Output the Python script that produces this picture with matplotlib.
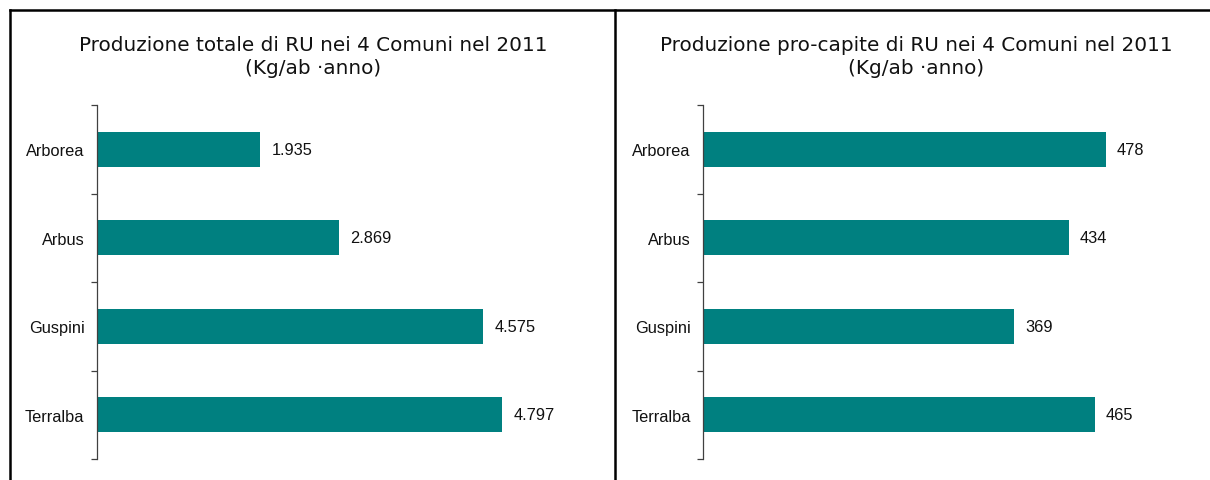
import matplotlib
matplotlib.use("Agg")
import matplotlib.pyplot as plt
from matplotlib.lines import Line2D

categories = ["Arborea", "Arbus", "Guspini", "Terralba"]
totale = [1935, 2869, 4575, 4797]
procapite = [478, 434, 369, 465]
title_left = "Produzione totale di RU nei 4 Comuni nel 2011\n(Kg/ab ·anno)"
title_right = "Produzione pro-capite di RU nei 4 Comuni nel 2011\n(Kg/ab ·anno)"

W, H = 1210, 481
fig = plt.figure(figsize=(W / 100, H / 100), dpi=100)
fig.patch.set_facecolor("white")

bar_color = "#008080"
label_font = "Liberation Sans"


def fmt_it(v):
    return f"{v:,}".replace(",", ".")


def make_panel(left_px, width_px, values, xmax):
    bottom = (H - 460) / H
    top = (H - 106) / H
    ax = fig.add_axes([left_px / W, bottom, width_px / W, top - bottom])
    ypos = list(range(len(categories)))
    ax.barh(ypos, values, height=0.4, color=bar_color)
    ax.set_ylim(len(categories) - 0.5, -0.5)
    ax.set_xlim(0, xmax)
    for s in ["top", "right", "bottom"]:
        ax.spines[s].set_visible(False)
    ax.spines["left"].set_color("#404040")
    ax.spines["left"].set_linewidth(0.9)
    ax.set_xticks([])
    ax.set_yticks([i - 0.5 for i in range(len(categories) + 1)])
    ax.set_yticklabels([])
    ax.tick_params(axis="y", which="major", direction="out", length=4.5,
                   width=0.9, color="#404040")
    ax.set_yticks(ypos, minor=True)
    ax.set_yticklabels(categories, minor=True, fontsize=11.8,
                       family=label_font, color="#111111")
    ax.tick_params(axis="y", which="minor", length=0, pad=9.0)
    for y, v in zip(ypos, values):
        ax.annotate(fmt_it(v), xy=(v, y), xytext=(8, 0),
                    textcoords="offset points", va="center", ha="left",
                    fontsize=11.8, family=label_font, color="#111111")
    return ax


make_panel(97, 473, totale, 5600)
make_panel(703, 477, procapite, 566)

fig.text(313 / W, 1 - 57 / H, title_left, ha="center", va="center",
         fontsize=14.4, family="DejaVu Sans", color="#111111",
         linespacing=1.3)
fig.text(916 / W, 1 - 57 / H, title_right, ha="center", va="center",
         fontsize=14.4, family="DejaVu Sans", color="#111111",
         linespacing=1.3)

# frame lines
lw = 1.8
fig.add_artist(Line2D([9.5 / W, 9.5 / W], [0, 1 - 10.5 / H],
                      transform=fig.transFigure, color="black", lw=lw))
fig.add_artist(Line2D([9.5 / W, 1], [1 - 10.5 / H, 1 - 10.5 / H],
                      transform=fig.transFigure, color="black", lw=lw))
fig.add_artist(Line2D([614.5 / W, 614.5 / W], [0, 1 - 10.5 / H],
                      transform=fig.transFigure, color="black", lw=lw))

fig.savefig("out.png", dpi=100)
